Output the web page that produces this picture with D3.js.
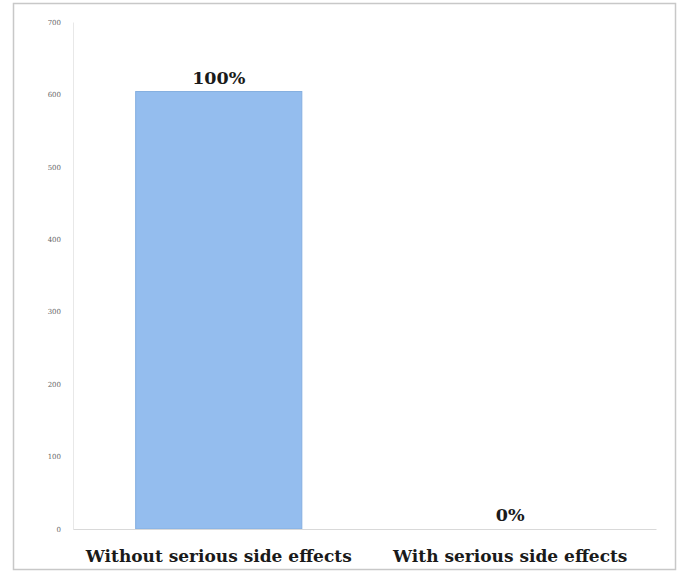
<!DOCTYPE html>
<html>
<head>
<meta charset="utf-8">
<script src="https://cdn.jsdelivr.net/npm/d3@7"></script>
<style>
  html, body { margin: 0; padding: 0; background: #fff; }
  svg { display: block; }
</style>
</head>
<body>
<svg id="chart" width="681" height="571"></svg>
<script>
// Patients grouped by occurrence of serious side effects
const categories = ["Without serious side effects", "With serious side effects"];
const counts = [604, 0];
const percentLabels = ["100%", "0%"];
const yTicks = [0, 100, 200, 300, 400, 500, 600, 700];

const svg = d3.select("#chart");
const W = 681, H = 571;
const margin = { top: 22, right: 25, bottom: 42, left: 73 };
const plotW = W - margin.left - margin.right;
const plotH = H - margin.top - margin.bottom;

// Outer frame
svg.append("rect")
  .attr("x", 13.5).attr("y", 3.5)
  .attr("width", 662).attr("height", 566)
  .attr("fill", "#fff")
  .attr("stroke", "#c8c8c8")
  .attr("stroke-width", 1.5);

const g = svg.append("g").attr("transform", `translate(${margin.left},${margin.top})`);

const x = d3.scaleBand().domain(categories).range([0, plotW]).paddingInner(0.43).paddingOuter(0.215);
const y = d3.scaleLinear().domain([0, 700]).range([plotH, 0]);

// Y axis (tick labels only, faint axis line)
const yAxis = d3.axisLeft(y).tickValues(yTicks).tickSize(0).tickPadding(12);
const yG = g.append("g").call(yAxis);
yG.select(".domain").attr("stroke", "#e8e8e8");
yG.selectAll("text")
  .attr("font-family", "'DejaVu Serif', serif")
  .attr("font-size", 7)
  .attr("fill", "#666");

// Bars
g.selectAll("rect.bar")
  .data(categories)
  .join("rect")
  .attr("class", "bar")
  .attr("x", d => x(d))
  .attr("y", (d, i) => y(counts[i]))
  .attr("width", x.bandwidth())
  .attr("height", (d, i) => y(0) - y(counts[i]))
  .attr("fill", "#94bdee")
  .attr("stroke", "#84aee0")
  .attr("stroke-width", 1);

// Baseline and category labels
const xAxis = d3.axisBottom(x).tickSize(0).tickPadding(21);
const xG = g.append("g").attr("transform", `translate(0,${plotH})`).call(xAxis);
xG.select(".domain").attr("stroke", "#d9d9d9");
xG.selectAll("text")
  .attr("font-family", "'DejaVu Serif', serif")
  .attr("font-weight", "bold")
  .attr("font-size", 17)
  .attr("fill", "#1a1a1a");

// Value labels
g.selectAll("text.val")
  .data(categories)
  .join("text")
  .attr("class", "val")
  .attr("x", d => x(d) + x.bandwidth() / 2)
  .attr("y", (d, i) => y(counts[i]) - 8)
  .attr("text-anchor", "middle")
  .attr("font-family", "'DejaVu Serif', serif")
  .attr("font-weight", "bold")
  .attr("font-size", 17.5)
  .attr("fill", "#1a1a1a")
  .text((d, i) => percentLabels[i]);
</script>
</body>
</html>
